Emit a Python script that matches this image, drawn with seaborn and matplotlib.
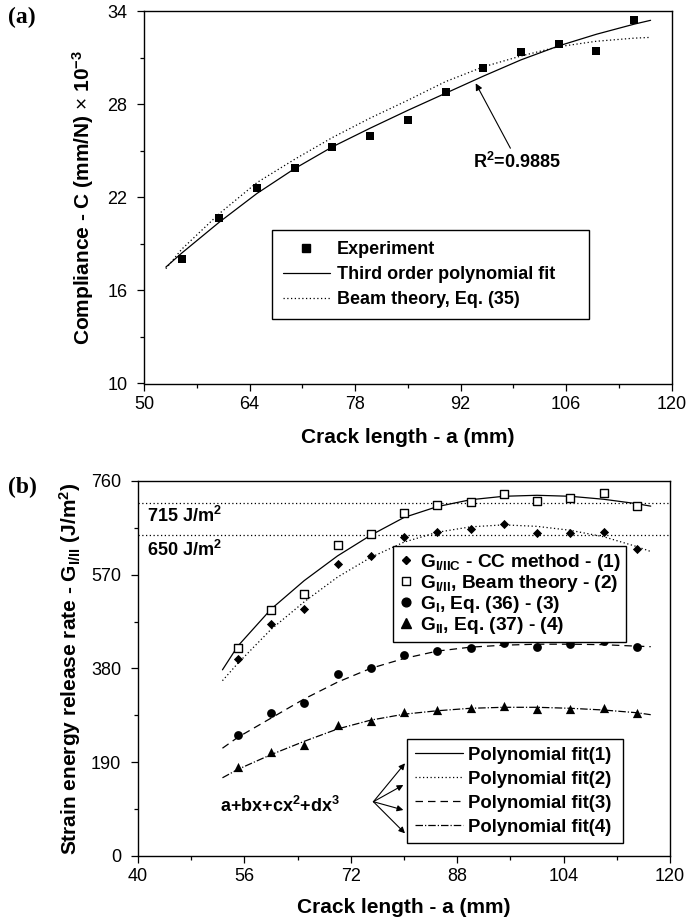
import numpy as np
import pandas as pd
import matplotlib
matplotlib.use("Agg")
import matplotlib.pyplot as plt
import seaborn as sns
from matplotlib.lines import Line2D
from matplotlib.ticker import FixedLocator

# ---------------- data: panel (a) ----------------
crack_len_a = [55, 60, 65, 70, 75, 80, 85, 90, 95, 100, 105, 110, 115]
compliance_exp = [18.0, 20.65, 22.6, 23.9, 25.25, 25.95, 27.0, 28.75, 30.3, 31.35, 31.85, 31.4, 33.4]
fit_len_a = [52.9, 55, 60, 65, 70, 75, 80, 85, 90, 95, 100, 105, 110, 115, 117.2]
compliance_poly = [17.5, 18.4, 20.4, 22.25, 23.85, 25.25, 26.45, 27.6, 28.7, 29.8, 30.85, 31.75, 32.5, 33.15, 33.4]
compliance_beam = [17.4, 18.65, 20.95, 22.95, 24.45, 25.85, 27.1, 28.25, 29.45, 30.4, 31.1, 31.7, 32.05, 32.25, 32.3]

# ---------------- data: panel (b) ----------------
crack_len_b = [55, 60, 65, 70, 75, 80, 85, 90, 95, 100, 105, 110, 115]
g_cc = [399, 469, 500, 592, 608, 646, 657, 663, 672, 654, 654, 656, 623]
g_beam = [422, 498, 531, 631, 652, 695, 711, 718, 733, 720, 726, 735, 709]
g_mode1 = [245, 290, 310, 369, 380, 407, 415, 421, 431, 424, 429, 436, 424]
g_mode2 = [179, 210, 224, 265, 274, 291, 296, 299, 304, 298, 298, 300, 289]

fit_len_b = [52.7, 55, 60, 65, 70, 75, 80, 85, 90, 95, 100, 105, 110, 115, 117.1]
fit1 = [377, 425, 500, 558, 608, 650, 686, 708, 722, 729, 731, 729, 723, 714, 709]
fit2 = [355, 390, 459, 515, 565, 605, 636, 656, 667, 671, 668, 660, 647, 627, 617]
fit3 = [218, 240, 279, 318, 352, 380, 400, 415, 423, 427, 429, 429, 428, 425, 424]
fit4 = [158, 175, 205, 232, 257, 275, 287, 294, 299, 301, 301, 299, 295.5, 290, 286]

levels = [715, 650]
level_labels = ["715 J/m$^2$", "650 J/m$^2$"]

xticks_a = [50, 64, 78, 92, 106, 120]
yticks_a = [10, 16, 22, 28, 34]
xticks_b = [40, 56, 72, 88, 104, 120]
yticks_b = [0, 190, 380, 570, 760]

# ---------------- style ----------------
sns.set_style("ticks")
plt.rcParams.update({
    "font.family": ["Liberation Sans", "DejaVu Sans"],
    "mathtext.fontset": "custom",
    "mathtext.rm": "Liberation Sans",
    "mathtext.bf": "Liberation Sans:bold",
    "mathtext.it": "Liberation Sans:bold",
    "mathtext.default": "bf",
    "axes.edgecolor": "black",
    "axes.linewidth": 1.0,
    "xtick.color": "black",
    "ytick.color": "black",
    "xtick.direction": "out",
    "ytick.direction": "out",
    "xtick.major.size": 5,
    "ytick.major.size": 5,
    "xtick.minor.size": 3,
    "ytick.minor.size": 3,
    "xtick.major.width": 0.9,
    "ytick.major.width": 0.9,
    "xtick.minor.width": 0.9,
    "ytick.minor.width": 0.9,
    "text.color": "black",
    "axes.labelcolor": "black",
})

DOT = (0, (1, 2))
DASH = (0, (6, 4))
DASHDOT = (0, (6, 1.6, 1, 1.6))
LW = 0.9

fig = plt.figure(figsize=(6.87, 9.19), dpi=100)
W, H = 687, 919
ax1 = fig.add_axes([144 / W, 1 - 383.5 / H, (671.7 - 144) / W, (383.5 - 11) / H])
ax2 = fig.add_axes([138 / W, 1 - 855.7 / H, (670 - 138) / W, (855.7 - 481) / H])

# ---------------- panel (a) ----------------
sns.lineplot(x=fit_len_a, y=compliance_poly, ax=ax1, color="black", lw=LW,
             sort=False, estimator=None, legend=False)
sns.lineplot(x=fit_len_a, y=compliance_beam, ax=ax1, color="black", lw=LW,
             linestyle=DOT, sort=False, estimator=None, legend=False)
sns.scatterplot(x=crack_len_a, y=compliance_exp, ax=ax1, marker="s", s=40,
                color="black", edgecolor="black", linewidth=0, zorder=3, legend=False)

ax1.set_xlim(50, 120)
ax1.set_ylim(10, 34)
ax1.xaxis.set_major_locator(FixedLocator(xticks_a))
ax1.yaxis.set_major_locator(FixedLocator(yticks_a))
ax1.xaxis.set_minor_locator(FixedLocator([57, 71, 85, 99, 113]))
ax1.yaxis.set_minor_locator(FixedLocator([13, 19, 25, 31]))
ax1.set_xticklabels([str(v) for v in xticks_a])
ax1.set_yticklabels([str(v) for v in yticks_a])
ax1.tick_params(axis="both", which="both", top=False, right=False, labelsize=13)
ax1.tick_params(axis="y", which="major", pad=7)
ax1.tick_params(axis="x", which="major", pad=4)
ax1.set_xlabel("Crack length - a (mm)", fontsize=15, fontweight="bold", labelpad=11)
ax1.set_ylabel(r"Compliance - C (mm/N) $\mathrm{\times}$ 10$^{-3}$", fontsize=15,
               fontweight="bold", labelpad=8)

h_a = [Line2D([], [], marker="s", ls="none", color="black", markersize=6.3),
       Line2D([], [], color="black", lw=LW),
       Line2D([], [], color="black", lw=LW, ls=DOT)]
l_a = ["Experiment", "Third order polynomial fit", "Beam theory, Eq. (35)"]
leg_a = ax1.legend(h_a, l_a, loc="upper left", bbox_to_anchor=(0.2426, 0.16, 0.6, 0.252),
                   mode="expand", borderaxespad=0, prop={"weight": "bold", "size": 13},
                   frameon=True, fancybox=False, edgecolor="black", framealpha=1,
                   handlelength=2.6, handletextpad=0.4, borderpad=0.6, labelspacing=0.45)
leg_a.get_frame().set_linewidth(1.0)

ax1.annotate("R$^2$=0.9885", xy=(94.0, 29.34), xytext=(93.6, 23.91),
             fontsize=13, fontweight="bold", ha="left", va="baseline",
             arrowprops=dict(arrowstyle="-|>", color="black", lw=0.8,
                             mutation_scale=10, shrinkA=0, shrinkB=0,
                             relpos=(0.45, 1.0)))

# ---------------- panel (b) ----------------
for lev in levels:
    ax2.axhline(lev, color="black", lw=LW, ls=DOT, zorder=1)
ax2.text(41.35, 690, level_labels[0], fontsize=13, fontweight="bold", ha="left", va="center")
ax2.text(41.35, 620, level_labels[1], fontsize=13, fontweight="bold", ha="left", va="center")

sns.lineplot(x=fit_len_b, y=fit1, ax=ax2, color="black", lw=LW, sort=False,
             estimator=None, legend=False)
sns.lineplot(x=fit_len_b, y=fit2, ax=ax2, color="black", lw=LW, linestyle=DOT,
             sort=False, estimator=None, legend=False)
sns.lineplot(x=fit_len_b, y=fit3, ax=ax2, color="black", lw=LW, linestyle=DASH,
             sort=False, estimator=None, legend=False)
sns.lineplot(x=fit_len_b, y=fit4, ax=ax2, color="black", lw=LW, linestyle=DASHDOT,
             sort=False, estimator=None, legend=False)

sns.scatterplot(x=crack_len_b, y=g_cc, ax=ax2, marker="D", s=22, color="black",
                edgecolor="black", linewidth=0, zorder=3, legend=False)
sns.scatterplot(x=crack_len_b, y=g_beam, ax=ax2, marker="s", s=30, color="white",
                edgecolor="black", linewidth=1.0, zorder=3, legend=False)
sns.scatterplot(x=crack_len_b, y=g_mode1, ax=ax2, marker="o", s=40, color="black",
                edgecolor="black", linewidth=0, zorder=3, legend=False)
sns.scatterplot(x=crack_len_b, y=g_mode2, ax=ax2, marker="^", s=44, color="black",
                edgecolor="black", linewidth=0, zorder=3, legend=False)

ax2.set_xlim(40, 120)
ax2.set_ylim(0, 760)
ax2.xaxis.set_major_locator(FixedLocator(xticks_b))
ax2.yaxis.set_major_locator(FixedLocator(yticks_b))
ax2.xaxis.set_minor_locator(FixedLocator([48, 64, 80, 96, 112]))
ax2.yaxis.set_minor_locator(FixedLocator([95, 285, 475, 665]))
ax2.set_xticklabels([str(v) for v in xticks_b])
ax2.set_yticklabels([str(v) for v in yticks_b])
ax2.tick_params(axis="both", which="both", top=False, right=False, labelsize=13)
ax2.tick_params(axis="y", which="major", pad=7)
ax2.tick_params(axis="x", which="major", pad=4)
ax2.set_xlabel("Crack length - a (mm)", fontsize=15, fontweight="bold", labelpad=9)
ax2.set_ylabel("Strain energy release rate - G$_{I/II}$ (J/m$^2$)", fontsize=15,
               fontweight="bold", labelpad=6)

h_b1 = [Line2D([], [], marker="D", ls="none", color="black", markersize=4.5),
        Line2D([], [], marker="s", ls="none", markerfacecolor="white",
               markeredgecolor="black", markeredgewidth=1.0, markersize=5.5),
        Line2D([], [], marker="o", ls="none", color="black", markersize=6.3),
        Line2D([], [], marker="^", ls="none", color="black", markersize=6.6)]
l_b1 = ["G$_{I/IIC}$ - CC method - (1)", "G$_{I/II}$, Beam theory - (2)",
        "G$_{I}$, Eq. (36) - (3)", "G$_{II}$, Eq. (37) - (4)"]
leg_b1 = ax2.legend(h_b1, l_b1, loc="upper left", bbox_to_anchor=(0.479, 0.8265),
                    borderaxespad=0, prop={"weight": "bold", "size": 13.8},
                    frameon=True, fancybox=False, edgecolor="black", framealpha=1,
                    handlelength=0.8, handletextpad=0.3, borderpad=0.3, labelspacing=0.0)
leg_b1.get_frame().set_linewidth(1.0)
ax2.add_artist(leg_b1)

h_b2 = [Line2D([], [], color="black", lw=LW),
        Line2D([], [], color="black", lw=LW, ls=DOT),
        Line2D([], [], color="black", lw=LW, ls=DASH),
        Line2D([], [], color="black", lw=LW, ls=DASHDOT)]
l_b2 = ["Polynomial fit(1)", "Polynomial fit(2)", "Polynomial fit(3)", "Polynomial fit(4)"]
leg_b2 = ax2.legend(h_b2, l_b2, loc="upper left", bbox_to_anchor=(0.506, 0.0107, 0.405, 0.30),
                    mode="expand", borderaxespad=0, prop={"weight": "bold", "size": 13.3},
                    frameon=True, fancybox=False, edgecolor="black", framealpha=1,
                    handlelength=2.6, handletextpad=0.3, borderpad=0.4, labelspacing=0.38)
leg_b2.get_frame().set_linewidth(1.0)

ax2.text(52.3, 88, "a+bx+cx$^2$+dx$^3$", fontsize=13, fontweight="bold",
         ha="left", va="baseline")
arrow_targets = [(80.15, 187.4), (79.9, 143.4), (79.9, 92.7), (80.15, 45.4)]
for tx, ty in arrow_targets:
    ax2.annotate("", xy=(tx, ty), xytext=(75.4, 109.5),
                 arrowprops=dict(arrowstyle="-|>", color="black", lw=0.8,
                                 mutation_scale=9, shrinkA=0, shrinkB=0))

fig.text(22 / W, 1 - 17 / H, "(a)", fontsize=17, fontweight="bold",
         family=["Liberation Serif", "DejaVu Serif"], ha="center", va="center")
fig.text(22 / W, 1 - 487 / H, "(b)", fontsize=17, fontweight="bold",
         family=["Liberation Serif", "DejaVu Serif"], ha="center", va="center")

fig.savefig("out.png", dpi=100)
